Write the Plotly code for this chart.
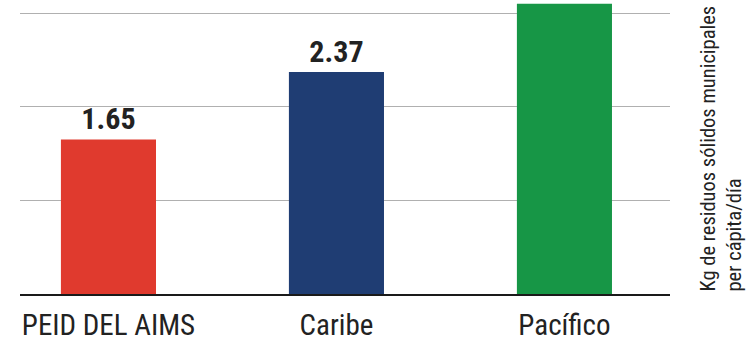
import plotly.graph_objects as go

categories = ["PEID DEL AIMS", "Caribe", "Pacífico"]
values = [1.65, 2.37, 3.10]
labels = ["1.65", "2.37", ""]  # Pacífico label lies above the visible area in the reference
colors = ["#E03A2E", "#1F3D73", "#179646"]
y_title = "Kg de residuos sólidos municipales<br>per cápita/día"

FONT = "Roboto Condensed, Liberation Sans Narrow, Roboto, sans-serif"

fig = go.Figure(go.Bar(
    x=categories, y=values, text=labels, textposition="outside",
    marker=dict(color=colors, line=dict(width=0)),
    width=0.417, cliponaxis=True,
    textfont=dict(family=FONT, size=30, color="#222222", weight="bold"),
))

fig.update_layout(
    width=747, height=342,
    margin=dict(l=20, r=77, t=0, b=46),
    paper_bgcolor="white", plot_bgcolor="white",
    showlegend=False,
    font=dict(family=FONT, color="#222222"),
    xaxis=dict(range=[-0.388, 2.463], showline=True, linecolor="#1a1a1a", linewidth=2,
               ticks="", tickfont=dict(size=29, color="#222222"), showgrid=False,
               ticklabelstandoff=4),
    yaxis=dict(range=[0, 3.139], side="right", showticklabels=False, ticks="",
               tickvals=[1, 2, 3], showgrid=True, gridcolor="#b0b0b0", gridwidth=1.2,
               zeroline=False),
    annotations=[dict(text=y_title, xref="paper", yref="paper", x=1.0, y=0,
                      xshift=23, xanchor="left", yanchor="bottom", textangle=-90,
                      align="left", showarrow=False,
                      font=dict(size=20.5, color="#222222", family=FONT))],
)

fig.write_html("out.html")
